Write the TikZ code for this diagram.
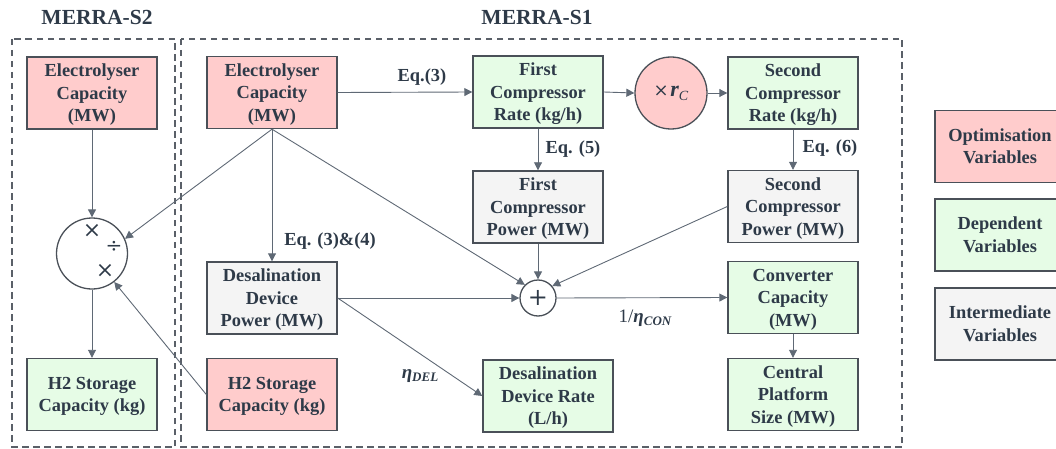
\documentclass[tikz,border=0pt]{standalone}
\usepackage{fontspec}
\setmainfont{Liberation Serif}[BoldFont={Liberation Serif Bold}, ItalicFont={Liberation Serif Italic}, BoldItalicFont={Liberation Serif Bold Italic}]
\newfontfamily\symfont{DejaVu Serif}
\usetikzlibrary{arrows.meta}

\definecolor{inkc}{HTML}{2E3A48}
\definecolor{edgec}{HTML}{5F6975}
\definecolor{framec}{HTML}{5A6068}
\definecolor{optfill}{HTML}{FFCCCC}
\definecolor{depfill}{HTML}{E6FCE6}
\definecolor{intfill}{HTML}{F4F4F4}
\definecolor{borderc}{HTML}{4A5058}

% stacked box text, centred on full line heights
\newcommand{\boxtext}[1]{\begin{tabular}{@{}c@{}}\rule{0pt}{19pt}#1\end{tabular}}

\tikzset{
  varbox/.style={draw=borderc, line width=1.4pt, minimum width=130pt, minimum height=72pt,
    inner sep=0pt, text=inkc, font=\fontsize{18.4}{22.5}\selectfont\bfseries},
  optbox/.style={varbox, fill=optfill},
  depbox/.style={varbox, fill=depfill},
  intbox/.style={varbox, fill=intfill},
  opcircle/.style={circle, draw=borderc, line width=1.3pt, inner sep=0pt, text=inkc},
  opsign/.style={text=inkc, inner sep=0pt, font=\symfont\fontsize{22}{22}\selectfont},
  flow/.style={draw=edgec, line width=0.9pt, -{Triangle[length=8pt,width=8pt]}},
  eqlabel/.style={text=inkc, font=\fontsize{18.4}{22}\selectfont\bfseries, inner sep=0pt},
  mathlabel/.style={text=inkc, inner sep=0pt, font=\fontsize{19}{19}\selectfont\bfseries\itshape},
  frame/.style={draw=framec, line width=1.2pt, dash pattern=on 6.5pt off 4.5pt},
  heading/.style={text=inkc, font=\fontsize{21.5}{24}\selectfont\bfseries, inner sep=0pt}
}

\begin{document}
\begin{tikzpicture}[x=1pt,y=-1pt]
\useasboundingbox (0,0) rectangle (1056,449);
\clip (0,0) rectangle (1056,449);

% scenario frames and headings
\draw[frame] (12,39) rectangle (175,447);
\draw[frame] (181,39) rectangle (902,447);
\node[heading] (ts2) at (97,17) {MERRA-S2};
\node[heading] (ts1) at (537,17) {MERRA-S1};

% MERRA-S2
\node[optbox] (e2) at (92,93) {\boxtext{Electrolyser\\Capacity\\(MW)}};
\node[opcircle, minimum size=71pt] (mix) at (92,253.5) {};
\node[opsign] (m1) at (92,231) {×};
\node[opsign, font=\symfont\fontsize{20}{20}\selectfont] (m2) at (114,247) {÷};
\node[opsign] (m3) at (105,271) {×};
\node[depbox] (h2a) at (92,394.5) {\boxtext{H2 Storage\\Capacity (kg)}};

% MERRA-S1
\node[optbox] (e1) at (272,92.5) {\boxtext{Electrolyser\\Capacity\\(MW)}};
\node[optbox] (h2b) at (272,394.5) {\boxtext{H2 Storage\\Capacity (kg)}};
\node[intbox] (dp) at (272,298) {\boxtext{Desalination\\Device\\Power (MW)}};
\node[depbox] (fcr) at (538,92) {\boxtext{First\\Compressor\\Rate (kg/h)}};
\node[opcircle, fill=optfill, minimum size=72pt] (rc) at (671,93)
  {{\symfont\fontsize{18}{18}\selectfont ×}\,{\fontsize{22}{22}\selectfont\bfseries\itshape r}\raisebox{-4pt}{\fontsize{14}{14}\selectfont\itshape C}};
\node[depbox] (scr) at (793,93) {\boxtext{Second\\Compressor\\Rate (kg/h)}};
\node[intbox] (fcp) at (538,207) {\boxtext{First\\Compressor\\Power (MW)}};
\node[intbox] (scp) at (793,206.5) {\boxtext{Second\\Compressor\\Power (MW)}};
\node[opcircle, minimum size=36pt, font=\symfont\fontsize{24}{24}\selectfont] (sum) at (538,298) {+};
\node[depbox] (conv) at (793,297.5) {\boxtext{Converter\\Capacity\\(MW)}};
\node[depbox] (cps) at (793,394.5) {\boxtext{Central\\Platform\\Size (MW)}};
\node[depbox] (ddr) at (548,396) {\boxtext{Desalination\\Device Rate\\(L/h)}};

% legend
\node[optbox] (lo) at (1000,146.5) {\boxtext{Optimisation\\Variables}};
\node[depbox] (ld) at (1000,235) {\boxtext{Dependent\\Variables}};
\node[intbox] (li) at (1000,324) {\boxtext{Intermediate\\Variables}};

% connectors
\draw[flow] (e2.south) -- (mix.north);
\draw[flow] (mix.south) -- (h2a.north);
\draw[flow] (e1.south) -- (mix.24);
\draw[flow] (h2b.west) -- (mix.-52);
\draw[flow] (e1.south) -- (dp.north);
\draw[flow] (e1.south) -- (sum.135);
\draw[flow] (e1.east) -- (fcr.west);
\draw[flow] (fcr.east) -- (rc.west);
\draw[flow] (rc.east) -- (scr.west);
\draw[flow] (fcr.south) -- (fcp.north);
\draw[flow] (scr.south) -- (scp.north);
\draw[flow] (fcp.south) -- (sum.north);
\draw[flow] (scp.west) -- (sum.40);
\draw[flow] (dp.east) -- (sum.west);
\draw[flow] (dp.east) -- (ddr.west);
\draw[flow] (sum.east) -- (conv.west);
\draw[flow] (conv.south) -- (cps.north);

% connector labels
\node[eqlabel] (l3) at (422,77) {Eq.(3)};
\node[eqlabel] (l5) at (573,149) {Eq. (5)};
\node[eqlabel] (l6) at (830,148) {Eq. (6)};
\node[eqlabel] (l34) at (330,241) {Eq. (3)\&(4)};
\node[mathlabel] (lcon) at (645,318) {{\upshape\mdseries 1/}η\raisebox{-3pt}{\fontsize{13}{13}\selectfont CON}};
\node[mathlabel] (ldel) at (420,376) {η\raisebox{-3pt}{\fontsize{13}{13}\selectfont DEL}};
\end{tikzpicture}
\end{document}
